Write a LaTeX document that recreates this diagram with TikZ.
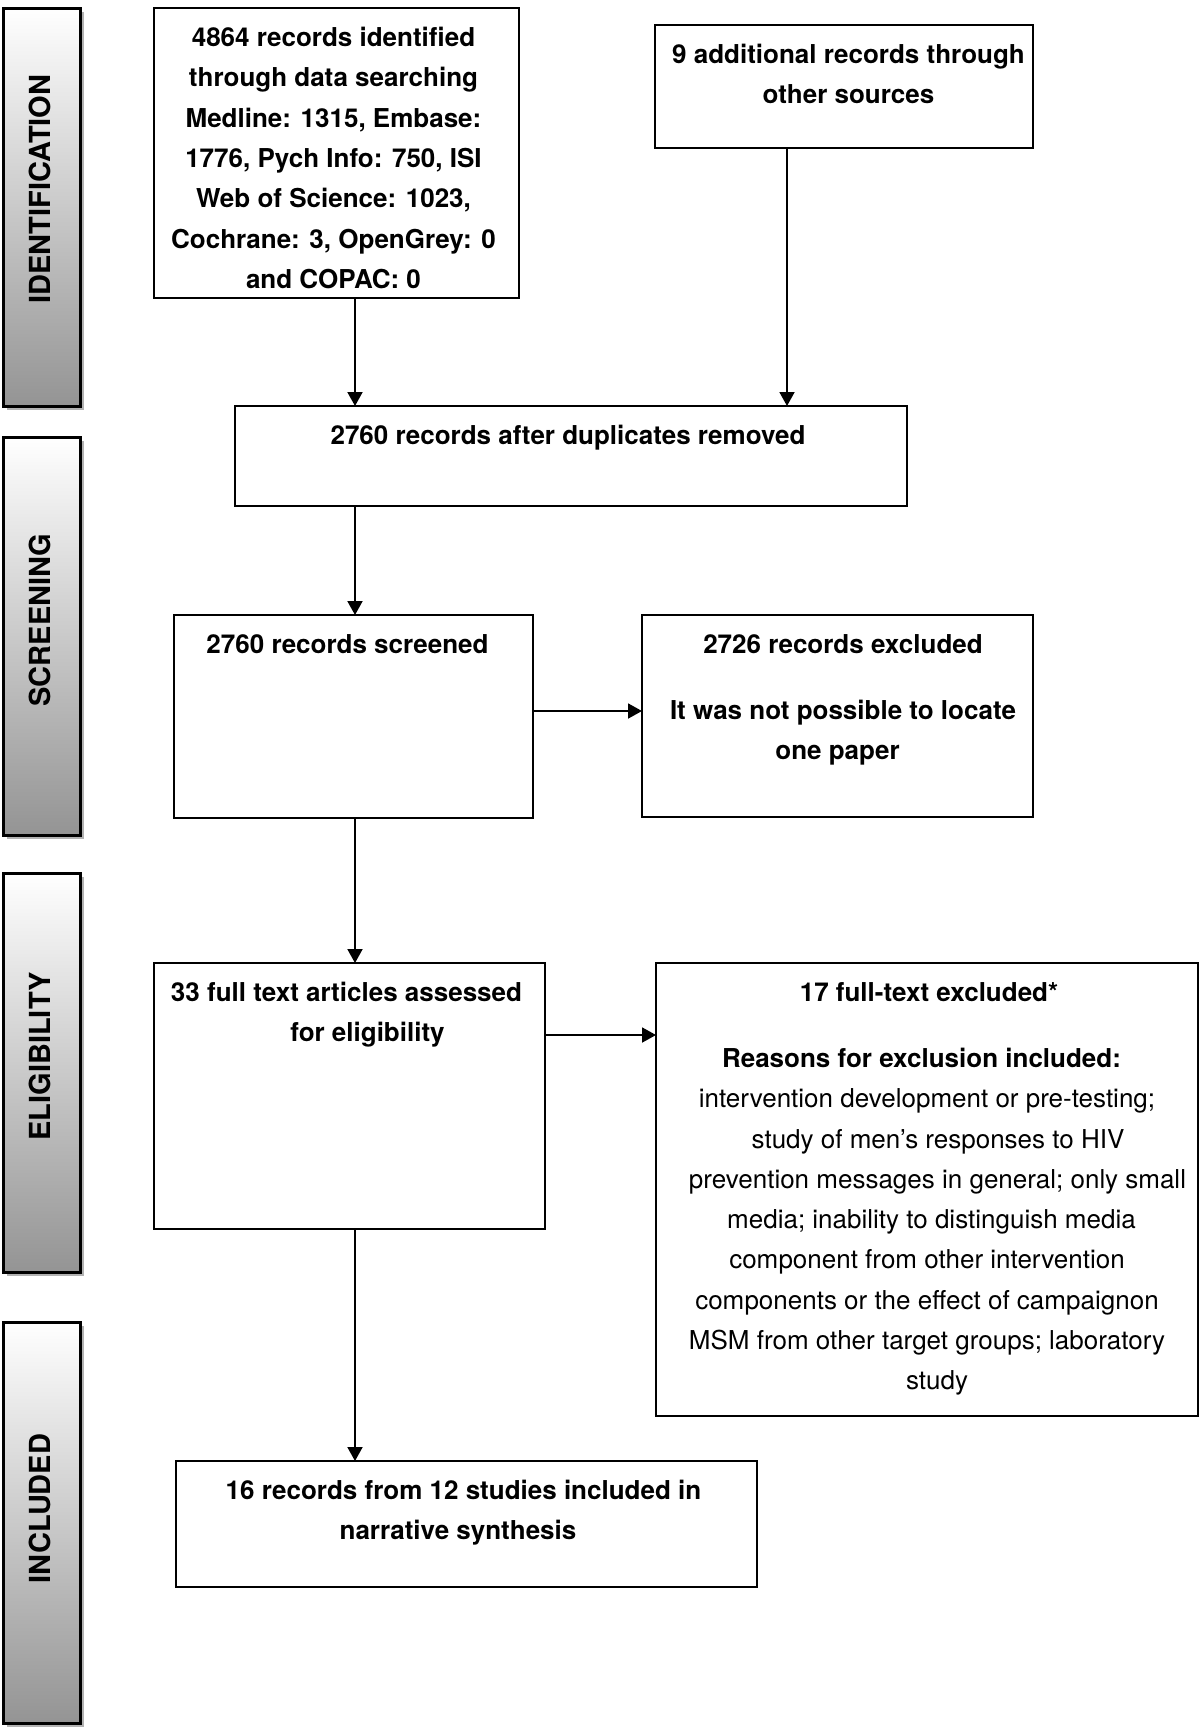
\documentclass[tikz,border=0pt]{standalone}
\usepackage{fontspec}
\setmainfont{TeX Gyre Heros}
\usetikzlibrary{arrows.meta,shadows}
\begin{document}
\begin{tikzpicture}[x=1pt,y=-1pt,
  box/.style={draw=black, line width=1.8pt, fill=white, anchor=north west, inner sep=0pt, outer sep=0pt},
  txt/.style={anchor=north, align=center, inner sep=0pt, font=\fontsize{26}{40.3}\selectfont\bfseries},
  sidebar/.style={draw=black, line width=3pt, anchor=north west, inner sep=0pt, outer sep=0pt,
     top color=white, bottom color=black!42,
     drop shadow={shadow xshift=4pt, shadow yshift=-4pt, fill=black!30, opacity=1}},
  sidetxt/.style={rotate=90, font=\fontsize{29}{32}\selectfont\bfseries, inner sep=0pt},
  arr/.style={line width=1.9pt, -{Triangle[length=14pt,width=15pt]}}
]
\fill[white] (0,0) rectangle (1200,1730);
\useasboundingbox (0,0) rectangle (1200,1730);

% side bars
\node[sidebar, minimum width=77pt, minimum height=398pt] (S1) at (3,8) {};
\node[sidebar, minimum width=77pt, minimum height=398pt] (S2) at (3,437) {};
\node[sidebar, minimum width=77pt, minimum height=399pt] (S3) at (3,873) {};
\node[sidebar, minimum width=77pt, minimum height=401pt] (S4) at (3,1322) {};
\node[sidetxt] (S1t) at ([xshift=-2pt,yshift=18pt]S1.center) {IDENTIFICATION};
\node[sidetxt] (S2t) at ([xshift=-2pt,yshift=16pt]S2.center) {SCREENING};
\node[sidetxt] (S3t) at ([xshift=-2pt,yshift=16pt]S3.center) {ELIGIBILITY};
\node[sidetxt] (S4t) at ([xshift=-2pt,yshift=14pt]S4.center) {INCLUDED};

% boxes
\node[box, minimum width=365pt, minimum height=290pt] (A) at (154,8) {};
\node[box, minimum width=378pt, minimum height=123pt] (B) at (655,25) {};
\node[box, minimum width=672pt, minimum height=100pt] (C) at (235,406) {};
\node[box, minimum width=359pt, minimum height=203pt] (D) at (174,615) {};
\node[box, minimum width=391pt, minimum height=202pt] (E) at (642,615) {};
\node[box, minimum width=391pt, minimum height=266pt] (F) at (154,963) {};
\node[box, minimum width=542pt, minimum height=453pt] (G) at (656,963) {};
\node[box, minimum width=581pt, minimum height=126pt] (H) at (176,1461) {};

% texts
\node[txt] (At) at ([xshift=-3pt,yshift=-19pt]A.north) {4864 records identified\\through data searching\\Medline: 1315, Embase:\\1776, Pych Info: 750, ISI\\Web of Science: 1023,\\Cochrane: 3, OpenGrey: 0\\and COPAC: 0};
\node[txt] (Bt) at ([xshift=4.5pt,yshift=-19pt]B.north) {9 additional records through\\other sources};
\node[txt] (Ct) at ([xshift=-3pt,yshift=-19pt]C.north) {2760 records after duplicates removed};
\node[txt] (Dt) at ([xshift=-6pt,yshift=-19pt]D.north) {2760 records screened};
\node[txt] (Et) at ([xshift=5.5pt,yshift=-19pt]E.north) {2726 records excluded\\[26pt]It was not possible to locate\\one paper\hspace*{11pt}};
\node[txt] (Ft) at ([xshift=-3pt,yshift=-19pt]F.north) {33 full text articles assessed\\\hspace*{42pt}for eligibility};
\node[txt] (Gt) at ([yshift=-19pt]G.north) {17 full-text excluded*\hspace*{-4pt}\\[26pt]\hspace*{-11pt}Reasons for exclusion included:\\\mdseries intervention development or pre-testing;\\\mdseries\hspace*{22pt}study of men’s responses to HIV\\\mdseries\hspace*{21pt}prevention messages in general; only small\\\mdseries\hspace*{9pt}media; inability to distinguish media\\\mdseries component from other intervention\\\mdseries components or the effect of campaignon\\\mdseries MSM from other target groups; laboratory\\\mdseries\hspace*{20pt}study};
\node[txt] (Ht) at ([xshift=-3pt,yshift=-19pt]H.north) {16 records from 12 studies included in\\narrative synthesis\hspace*{11pt}};

% connector guides
\coordinate (colx) at (355,0);
\coordinate (colb) at (787,0);
\coordinate (rowe) at (0,711);
\coordinate (rowg) at (0,1035);

\draw[arr] (A.south -| colx) -- (C.north -| colx);
\draw[arr] (B.south -| colb) -- (C.north -| colb);
\draw[arr] (C.south -| colx) -- (D.north -| colx);
\draw[arr] (D.east |- rowe) -- (E.west |- rowe);
\draw[arr] (D.south -| colx) -- (F.north -| colx);
\draw[arr] (F.east |- rowg) -- (G.west |- rowg);
\draw[arr] (F.south -| colx) -- (H.north -| colx);
\end{tikzpicture}
\end{document}
